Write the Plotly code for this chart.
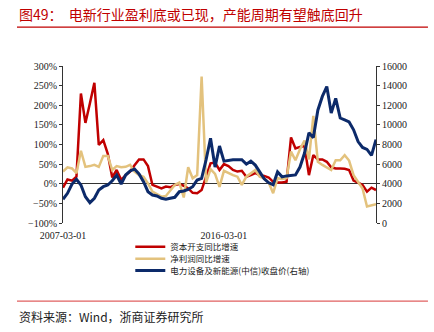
import plotly.graph_objects as go
import pandas as pd

dates = pd.date_range(start="2007-03-01", periods=71, freq="3MS").strftime("%Y-%m-%d").tolist()

capex_yoy = [-10, 11, 8, 18, 230, 155, 205, 257, 99, 111,
             76, 16, 35, 10, 22, 31, 47, 62, 62, 45,
             -3, -7, -12, -7, -9, -3, -1, -5, -12, -23,
             -24, -16, 18, 52, 54, 35, 50, 45, 35, 31,
             33, 18, 22, 27, 22, 20, 16, 5, 3, 3,
             5, 118, 90, 94, 96, 22, 73, 62, 62, 56,
             42, 39, 39, 38, 35, 8, 3, -3, -20, -10,
             -16]

profit_yoy = [31, 42, 39, 27, 84, 43, 45, 48, 43, 71,
              71, 35, 45, 42, 43, 48, 31, 22, 18, 1,
              -20, -26, -33, -31, -18, -3, 3, -35, 42, 14,
              22, 273, 3, 37, 25, -8, 33, 27, 22, 18,
              -3, 18, 27, 35, 18, 14, 3, -24, 14, 12,
              14, 82, 60, 88, 110, 62, 173, 56, 48, 42,
              35, 60, 60, 73, 59, 22, 5, -12, -58, -54,
              -52]

index_close = [2415, 3025, 3975, 4450, 3870, 2680, 2070, 2515, 3360, 3700,
               3870, 4310, 4890, 3975, 4890, 5300, 5500, 5000, 4210, 3190,
               2850, 2750, 2515, 2415, 2515, 2620, 3190, 3260, 3430, 3700,
               4380, 4550, 6420, 8630, 5700, 7850, 6300, 6400, 6450, 6450,
               6450, 6000, 6300, 5900, 5200, 4500, 4100, 3900, 5200, 4700,
               4800, 4850, 4900, 5700, 7100, 9200, 8700, 11500, 12900, 13900,
               11200, 12700, 10700, 10500, 10300, 9500, 8300, 7700, 7500, 6900,
               8500]

names = ["资本开支同比增速", "净利润同比增速", "电力设备及新能源(中信)收盘价(右轴)"]
colors = ["#C00000", "#E3C27D", "#0C2A6A"]
x_ticks = ["2007-03-01", "2016-03-01"]

title_text = "图49：  电新行业盈利底或已现，产能周期有望触底回升"
source_text = "资料来源：Wind，浙商证券研究所"

fig = go.Figure()
fig.add_trace(go.Scatter(x=dates, y=capex_yoy, name=names[0], mode="lines",
                         line=dict(color=colors[0], width=2.5), legend="legend"))
fig.add_trace(go.Scatter(x=dates, y=profit_yoy, name=names[1], mode="lines",
                         line=dict(color=colors[1], width=2.5), legend="legend2"))
fig.add_trace(go.Scatter(x=dates, y=index_close, name=names[2], mode="lines", yaxis="y2",
                         line=dict(color=colors[2], width=3), legend="legend3"))

axis_font = dict(family="Liberation Serif", size=10, color="#222")
leg_font = dict(family="Noto Sans CJK SC", size=8.5, color="#222")

def leg(yc):
    return dict(x=0.215, y=yc, xanchor="left", yanchor="middle", font=leg_font,
                bgcolor="rgba(0,0,0,0)", itemwidth=30)

fig.update_layout(
    width=434, height=332,
    margin=dict(l=63, r=58, t=66, b=109),
    paper_bgcolor="white", plot_bgcolor="white",
    showlegend=True,
    legend=leg(-0.152),
    legend2=leg(-0.228),
    legend3=leg(-0.303),
    xaxis=dict(type="date", range=[dates[0], dates[-1]],
               tickvals=x_ticks, ticktext=x_ticks, ticklabelstandoff=5,
               showgrid=False, showline=False, ticks="", tickfont=axis_font),
    yaxis=dict(range=[-100, 300], dtick=50, ticksuffix="%",
               showgrid=False, showline=True, linecolor="#333", linewidth=1,
               ticks="outside", ticklen=3, tickcolor="#333",
               zeroline=True, zerolinecolor="#333", zerolinewidth=1,
               tickfont=axis_font),
    yaxis2=dict(range=[0, 16000], dtick=2000, tickformat="d", overlaying="y", side="right",
                showgrid=False, showline=True, linecolor="#333", linewidth=1,
                ticks="outside", ticklen=3, tickcolor="#333", zeroline=False,
                tickfont=axis_font),
)

fig.add_annotation(text=title_text, xref="paper", yref="paper",
                   x=-0.147, y=1.33, xanchor="left", yanchor="middle", showarrow=False,
                   font=dict(family="Noto Sans CJK SC", size=14, color="#C00000"))
fig.add_annotation(text=source_text, xref="paper", yref="paper",
                   x=-0.147, y=-0.595, xanchor="left", yanchor="middle", showarrow=False,
                   font=dict(family="Noto Sans CJK SC", size=12, color="#222"))
fig.add_shape(type="line", xref="paper", yref="paper", x0=-0.147, x1=1.166, y0=1.248, y1=1.248,
              line=dict(color="#C00000", width=1.2))
fig.add_shape(type="line", xref="paper", yref="paper", x0=-0.147, x1=1.166, y0=-0.497, y1=-0.497,
              line=dict(color="#E06060", width=1.2))

fig.write_html("out.html")
